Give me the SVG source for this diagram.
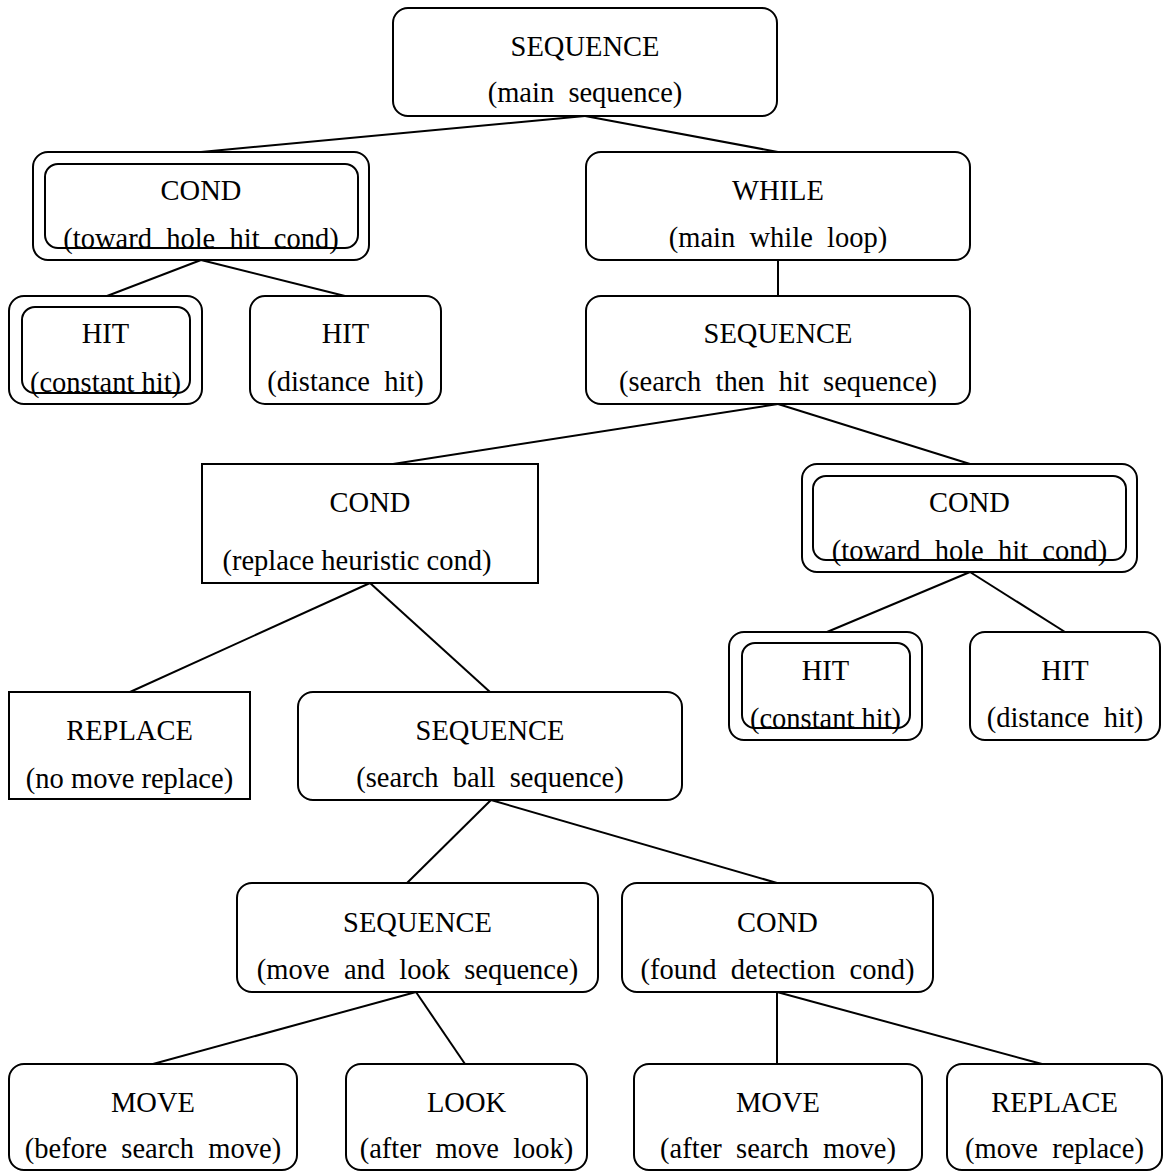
<svg xmlns="http://www.w3.org/2000/svg" width="1165" height="1171" viewBox="0 0 1165 1171">
  <style>
    .box { fill: #fff; stroke: #000; stroke-width: 2; }
    .inner { fill: none; stroke: #000; stroke-width: 2; }
    .edge { stroke: #000; stroke-width: 2; fill: none; }
    text { font-family: "Liberation Serif", "Times New Roman", serif; font-size: 28.5px; fill: #000; text-anchor: middle; }
  </style>
  <rect width="1165" height="1171" fill="#fff"/>

  <!-- parent-child links -->
  <g id="connectors">
    <line class="edge" x1="585" y1="116" x2="201" y2="152"/>
    <line class="edge" x1="585" y1="116" x2="778" y2="152"/>
    <line class="edge" x1="201" y1="260" x2="107" y2="296"/>
    <line class="edge" x1="201" y1="260" x2="345" y2="296"/>
    <line class="edge" x1="778" y1="260" x2="778" y2="296"/>
    <line class="edge" x1="778" y1="404" x2="393" y2="464"/>
    <line class="edge" x1="778" y1="404" x2="970" y2="464"/>
    <line class="edge" x1="970" y1="572" x2="827" y2="632"/>
    <line class="edge" x1="970" y1="572" x2="1065" y2="632"/>
    <line class="edge" x1="370" y1="583" x2="130" y2="692"/>
    <line class="edge" x1="370" y1="583" x2="490" y2="692"/>
    <line class="edge" x1="491" y1="800" x2="407" y2="883"/>
    <line class="edge" x1="491" y1="800" x2="777" y2="883"/>
    <line class="edge" x1="416" y1="992" x2="153" y2="1064"/>
    <line class="edge" x1="416" y1="992" x2="465" y2="1064"/>
    <line class="edge" x1="777" y1="992" x2="777" y2="1064"/>
    <line class="edge" x1="777" y1="992" x2="1042" y2="1064"/>
  </g>

  <g id="seq-main">
    <rect class="box" x="393" y="8" width="384" height="108" rx="15"/>
    <text x="585" y="56">SEQUENCE</text>
    <text x="585" y="102" xml:space="preserve">(main  sequence)</text>
  </g>

  <g id="cond-toward-hole-1">
    <rect class="box" x="33" y="152" width="336" height="108" rx="15"/>
    <rect class="inner" x="45" y="164" width="313" height="84" rx="13"/>
    <text x="201" y="200">COND</text>
    <text x="201" y="248" xml:space="preserve">(toward  hole  hit  cond)</text>
  </g>

  <g id="while-main">
    <rect class="box" x="586" y="152" width="384" height="108" rx="15"/>
    <text x="778" y="200">WHILE</text>
    <text x="778" y="247" xml:space="preserve">(main  while  loop)</text>
  </g>

  <g id="hit-constant-1">
    <rect class="box" x="9" y="296" width="193" height="108" rx="15"/>
    <rect class="inner" x="22" y="307" width="168" height="86" rx="13"/>
    <text x="105.5" y="343">HIT</text>
    <text x="105.5" y="392">(constant hit)</text>
  </g>

  <g id="hit-distance-1">
    <rect class="box" x="250" y="296" width="191" height="108" rx="15"/>
    <text x="345.5" y="343">HIT</text>
    <text x="345.5" y="391" xml:space="preserve">(distance  hit)</text>
  </g>

  <g id="seq-search-then-hit">
    <rect class="box" x="586" y="296" width="384" height="108" rx="15"/>
    <text x="778" y="343">SEQUENCE</text>
    <text x="778" y="391" xml:space="preserve">(search  then  hit  sequence)</text>
  </g>

  <g id="cond-replace-heuristic">
    <rect class="box" x="202" y="464" width="336" height="119"/>
    <text x="370" y="512">COND</text>
    <text x="357" y="570">(replace heuristic cond)</text>
  </g>

  <g id="cond-toward-hole-2">
    <rect class="box" x="802" y="464" width="335" height="108" rx="15"/>
    <rect class="inner" x="813" y="476" width="313" height="84" rx="13"/>
    <text x="969.5" y="512">COND</text>
    <text x="969.5" y="560" xml:space="preserve">(toward  hole  hit  cond)</text>
  </g>

  <g id="hit-constant-2">
    <rect class="box" x="729" y="632" width="193" height="108" rx="15"/>
    <rect class="inner" x="742" y="643" width="168" height="85" rx="13"/>
    <text x="825.5" y="680">HIT</text>
    <text x="825.5" y="728">(constant hit)</text>
  </g>

  <g id="hit-distance-2">
    <rect class="box" x="970" y="632" width="190" height="108" rx="15"/>
    <text x="1065" y="680">HIT</text>
    <text x="1065" y="727" xml:space="preserve">(distance  hit)</text>
  </g>

  <g id="replace-no-move">
    <rect class="box" x="9" y="692" width="241" height="107"/>
    <text x="129.5" y="740">REPLACE</text>
    <text x="129.5" y="788">(no move replace)</text>
  </g>

  <g id="seq-search-ball">
    <rect class="box" x="298" y="692" width="384" height="108" rx="15"/>
    <text x="490" y="740">SEQUENCE</text>
    <text x="490" y="787" xml:space="preserve">(search  ball  sequence)</text>
  </g>

  <g id="seq-move-and-look">
    <rect class="box" x="237" y="883" width="361" height="109" rx="15"/>
    <text x="417.5" y="932">SEQUENCE</text>
    <text x="417.5" y="979" xml:space="preserve">(move  and  look  sequence)</text>
  </g>

  <g id="cond-found-detection">
    <rect class="box" x="622" y="883" width="311" height="109" rx="15"/>
    <text x="777.5" y="932">COND</text>
    <text x="777.5" y="979" xml:space="preserve">(found  detection  cond)</text>
  </g>

  <g id="move-before-search">
    <rect class="box" x="9" y="1064" width="288" height="106" rx="15"/>
    <text x="153" y="1112">MOVE</text>
    <text x="153" y="1158" xml:space="preserve">(before  search  move)</text>
  </g>

  <g id="look-after-move">
    <rect class="box" x="346" y="1064" width="241" height="106" rx="15"/>
    <text x="466.5" y="1112">LOOK</text>
    <text x="466.5" y="1158" xml:space="preserve">(after  move  look)</text>
  </g>

  <g id="move-after-search">
    <rect class="box" x="634" y="1064" width="288" height="106" rx="15"/>
    <text x="778" y="1112">MOVE</text>
    <text x="778" y="1158" xml:space="preserve">(after  search  move)</text>
  </g>

  <g id="replace-move">
    <rect class="box" x="947" y="1064" width="215" height="106" rx="15"/>
    <text x="1054.5" y="1112">REPLACE</text>
    <text x="1054.5" y="1158" xml:space="preserve">(move  replace)</text>
  </g>
</svg>
